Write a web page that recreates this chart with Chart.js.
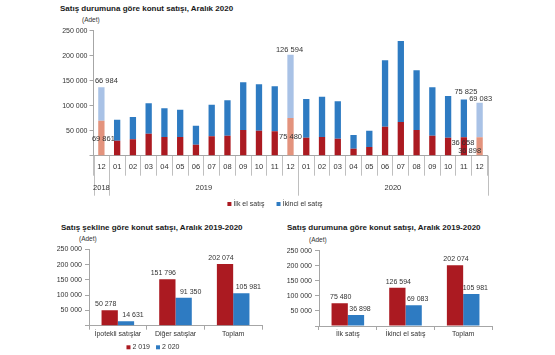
<!DOCTYPE html>
<html><head><meta charset="utf-8">
<script src="https://cdn.jsdelivr.net/npm/chart.js@4.4.1/dist/chart.umd.min.js"></script>
<style>
html,body{margin:0;padding:0;background:#fff;width:555px;height:355px;overflow:hidden;font-family:"Liberation Sans",Arial,sans-serif;}
.t{position:absolute;font-weight:bold;font-size:8px;line-height:10px;color:#1a1a1a;white-space:nowrap;}
.u{position:absolute;font-size:6.5px;line-height:10px;color:#333;white-space:nowrap;}
canvas{position:absolute;}
</style></head><body>
<div class="t" style="left:60px;top:4px">Satış durumuna göre konut satışı, Aralık 2020</div>
<div class="u" style="left:82px;top:15px">(Adet)</div>
<div class="t" style="left:61px;top:223px">Satış şekline göre konut satışı, Aralık 2019-2020</div>
<div class="u" style="left:79px;top:234px">(Adet)</div>
<div class="t" style="left:287px;top:223px">Satış durumuna göre konut satışı, Aralık 2019-2020</div>
<div class="u" style="left:309px;top:235px">(Adet)</div>
<canvas id="c1" width="555" height="215" style="left:0;top:0"></canvas>
<canvas id="c2" width="280" height="115" style="left:0;top:240px"></canvas>
<canvas id="c3" width="275" height="115" style="left:280px;top:240px"></canvas>
<script>
// ---- data ----
const monthLabels = ['12','01','02','03','04','05','06','07','08','09','10','11','12','01','02','03','04','05','06','07','08','09','10','11','12'];
const yearLabels = ['2018','2019','2020'];
const seriesNames = ['İlk el satış','İkinci el satış'];
const firstHandSales = [69861,30000,32700,44000,37300,37300,22000,38700,40000,51300,50000,48700,75480,36000,37300,34000,14000,17300,58000,67300,51300,40000,36000,36658,36898];
const secondHandSales = [66984,42000,44600,60700,57400,54700,38000,63300,70700,95400,92700,90000,126594,77300,80700,74700,27300,32700,132700,162000,119400,96700,83300,75825,69083];

const yearSeries = ['2 019','2 020'];
const saleTypeCats = ['İpotekli satışlar','Diğer satışlar','Toplam'];
const saleType2019 = [50278,151796,202074];
const saleType2020 = [14631,91350,105981];
const statusCats = ['İlk satış','İkinci el satış','Toplam'];
const status2019 = [75480,126594,202074];
const status2020 = [36898,69083,105981];

// ---- styles ----
const RED='#ab1a21', BLUE='#2e7bc2', LRED='#e3937d', LBLUE='#a9c2e6';
const AXIS='#a6a6a6', TXT='#333333';
Chart.defaults.font.family='"Liberation Sans", Arial, sans-serif';
Chart.defaults.color=TXT;

const fmt = v => String(v).replace(/\B(?=(\d{3})+(?!\d))/g,' ');

function drawLegend(ctx, items, cx, y, gap, fontSize){
  ctx.save();
  ctx.font = fontSize+'px "Liberation Sans", Arial, sans-serif';
  ctx.textBaseline='middle'; ctx.textAlign='left';
  const box=4, sp=2;
  const widths = items.map(it=>box+sp+ctx.measureText(it.text).width);
  const total = widths.reduce((a,b)=>a+b,0)+gap*(items.length-1);
  let x = cx-total/2;
  items.forEach((it,k)=>{
    ctx.fillStyle=it.color; ctx.fillRect(x, y-box/2, box, box);
    ctx.fillStyle=TXT; ctx.fillText(it.text, x+box+sp, y);
    x += widths[k]+gap;
  });
  ctx.restore();
}

// label layout for the top chart (dataset, index, where, offsets)
const topLabelLayout = [
  {ds:1,i:0,mode:'top',dx:5,dy:-6},
  {ds:0,i:0,mode:'mid',dx:2,dy:1},
  {ds:1,i:12,mode:'top',dx:-1,dy:-5},
  {ds:0,i:12,mode:'mid',dx:0,dy:0},
  {ds:1,i:23,mode:'top',dx:2,dy:-8},
  {ds:1,i:24,mode:'top',dx:1,dy:-4},
  {ds:0,i:23,mode:'mid',dx:-1,dy:-3},
  {ds:0,i:24,mode:'mid',dx:-10,dy:5}
];

const topDecor = {
  id:'topDecor',
  afterDraw(chart){
    const {ctx, chartArea:a, scales:{x}} = chart;
    const half=(x.getPixelForValue(1)-x.getPixelForValue(0))/2;
    ctx.save();
    ctx.strokeStyle='#bfbfbf'; ctx.lineWidth=1;
    const bounds=[0];
    monthLabels.forEach((m,i)=>{ if(m==='12' && i<monthLabels.length-1) bounds.push(i+1); });
    bounds.push(monthLabels.length);
    bounds.forEach(b=>{
      const px=Math.round(x.getPixelForValue(b)-half)+0.5;
      ctx.beginPath(); ctx.moveTo(px,a.bottom); ctx.lineTo(px,a.bottom+40); ctx.stroke();
    });
    ctx.fillStyle=TXT; ctx.font='7.5px "Liberation Sans", Arial, sans-serif';
    ctx.textAlign='center'; ctx.textBaseline='middle';
    for(let g=0; g<bounds.length-1; g++){
      const l=x.getPixelForValue(bounds[g])-half, r=x.getPixelForValue(bounds[g+1])-half;
      ctx.fillText(yearLabels[g], (l+r)/2, a.bottom+32.5);
    }
    // value labels
    topLabelLayout.forEach(s=>{
      const el=chart.getDatasetMeta(s.ds).data[s.i];
      const val=chart.data.datasets[s.ds].data[s.i];
      const y = s.mode==='top' ? el.y : (el.y+el.base)/2;
      ctx.fillText(fmt(val), el.x+s.dx, y+s.dy);
    });
    ctx.restore();
    drawLegend(ctx,[{color:RED,text:seriesNames[0]},{color:BLUE,text:seriesNames[1]}],275,204,12,7);
  }
};

new Chart(document.getElementById('c1'),{
  type:'bar',
  data:{labels:monthLabels,datasets:[
    {label:seriesNames[0],data:firstHandSales,stack:'s',
     backgroundColor:c=>monthLabels[c.dataIndex]==='12'?LRED:RED},
    {label:seriesNames[1],data:secondHandSales,stack:'s',
     backgroundColor:c=>monthLabels[c.dataIndex]==='12'?LBLUE:BLUE}
  ]},
  options:{
    responsive:false, animation:false, events:[],
    layout:{padding:{top:30.7,right:67.5,left:0,bottom:0}},
    plugins:{legend:{display:false},tooltip:{enabled:false}},
    datasets:{bar:{barPercentage:0.4,categoryPercentage:1}},
    scales:{
      x:{stacked:true,
         grid:{offset:true,drawOnChartArea:false,tickLength:20,color:'#bfbfbf'},
         border:{color:AXIS},
         ticks:{padding:-13.5,color:TXT,font:{size:7.5},maxRotation:0,autoSkip:false},
         afterFit:s=>{s.height=59.3;}},
      y:{stacked:true,min:0,max:250000,
         ticks:{stepSize:50000,padding:2,color:TXT,font:{size:7},callback:v=>v===0?'':fmt(v)},
         grid:{drawOnChartArea:false,tickLength:4,color:AXIS},
         border:{color:AXIS},
         afterFit:s=>{s.width=93.5;}}
    }
  },
  plugins:[topDecor]
});

function makeCompare(id, cats, d19, d20, cfg){
  const decor={
    id:'decor'+id,
    afterDraw(chart){
      const {ctx} = chart;
      ctx.save();
      ctx.fillStyle=TXT; ctx.font='7px "Liberation Sans", Arial, sans-serif';
      ctx.textAlign='center'; ctx.textBaseline='middle';
      chart.data.datasets.forEach((ds,di)=>{
        chart.getDatasetMeta(di).data.forEach((el,i)=>{
          ctx.fillText(fmt(ds.data[i]), el.x+cfg.labelDx[di], el.y-6);
        });
      });
      ctx.restore();
      drawLegend(ctx,[{color:RED,text:yearSeries[0]},{color:BLUE,text:yearSeries[1]}],cfg.legendX,107.3,6,7);
    }
  };
  new Chart(document.getElementById(id),{
    type:'bar',
    data:{labels:cats,datasets:[
      {label:yearSeries[0],data:d19,backgroundColor:RED},
      {label:yearSeries[1],data:d20,backgroundColor:BLUE}
    ]},
    options:{
      responsive:false, animation:false, events:[],
      layout:{padding:{top:cfg.top,right:cfg.right,left:0,bottom:0}},
      plugins:{legend:{display:false},tooltip:{enabled:false}},
      datasets:{bar:{barPercentage:1,categoryPercentage:cfg.catPct}},
      scales:{
        x:{grid:{offset:true,drawOnChartArea:false,tickLength:4,color:AXIS},
           border:{color:AXIS},
           ticks:{padding:0,color:TXT,font:{size:7},maxRotation:0,autoSkip:false},
           afterFit:s=>{s.height=cfg.xh;}},
        y:{min:0,max:250000,
           ticks:{stepSize:50000,padding:3,color:TXT,font:{size:7},callback:v=>v===0?'':fmt(v)},
           grid:{drawOnChartArea:false,tickLength:4,color:AXIS},
           border:{color:AXIS},
           afterFit:s=>{s.width=cfg.yw;}}
      }
    },
    plugins:[decor]
  });
}

makeCompare('c2', saleTypeCats, saleType2019, saleType2020,
  {top:9.3,right:18,yw:89,xh:29.3,catPct:0.565,legendX:153,labelDx:[-4,7]});
makeCompare('c3', statusCats, status2019, status2020,
  {top:10.7,right:63,yw:39,xh:29,catPct:0.565,legendX:390,labelDx:[1,4]});
</script>
</body></html>
